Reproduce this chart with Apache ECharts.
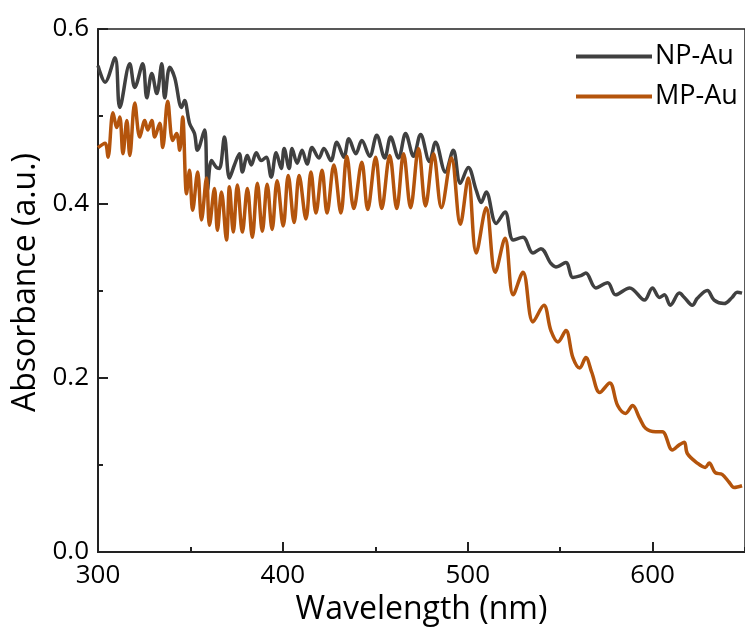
<!DOCTYPE html>
<html>
<head>
<meta charset="utf-8">
<script src="https://cdn.jsdelivr.net/npm/echarts@6/dist/echarts.min.js"></script>
<style>
  html, body { margin: 0; padding: 0; background: #fff; }
  #chart { width: 745px; height: 632px; }
</style>
</head>
<body>
<div id="chart"></div>
<script>
// ---- Data ----
const seriesNames = ["NP-Au", "MP-Au"];

const npWavelength = [300.0,303.8,309.2,311.8,317.2,319.9,324.2,326.4,329.1,331.8,334.5,336.1,338.8,341.5,345.2,346.8,349.5,352.2,353.8,357.6,359.2,361.4,364.1,365.7,368.4,371.1,373.8,376.5,378.1,380.8,382.9,385.6,388.3,391.0,393.7,396.4,399.1,400.7,403.4,405.0,407.7,410.4,413.1,415.8,419.5,422.2,426.0,429.2,433.0,435.7,439.5,442.7,447.0,450.8,455.1,458.3,462.6,466.4,470.7,474.5,479.3,482.6,487.9,492.2,496.0,500.3,504.6,507.3,510.0,515.4,520.2,524.6,529.9,535.3,539.6,545.0,547.7,553.1,556.9,561.2,563.9,569.3,575.7,580.0,587.6,595.6,599.9,603.7,606.4,609.6,614.5,617.2,621.5,624.2,629.6,633.3,638.7,643.0,645.7,648.4];
const npAbsorbance = [0.558,0.539,0.567,0.510,0.560,0.533,0.560,0.521,0.549,0.526,0.560,0.521,0.556,0.544,0.510,0.518,0.492,0.480,0.461,0.484,0.415,0.449,0.441,0.440,0.476,0.429,0.444,0.457,0.436,0.455,0.444,0.458,0.449,0.453,0.430,0.458,0.440,0.463,0.440,0.463,0.446,0.461,0.445,0.464,0.452,0.463,0.449,0.470,0.453,0.474,0.457,0.472,0.454,0.478,0.452,0.476,0.452,0.480,0.454,0.479,0.448,0.470,0.436,0.461,0.423,0.441,0.415,0.401,0.413,0.377,0.390,0.358,0.361,0.343,0.348,0.331,0.327,0.332,0.315,0.317,0.320,0.303,0.309,0.295,0.303,0.289,0.303,0.292,0.295,0.283,0.297,0.292,0.283,0.291,0.300,0.289,0.285,0.292,0.298,0.297];

const mpWavelength = [300.0,303.8,305.4,308.1,310.2,311.8,313.5,315.6,317.2,319.9,322.6,325.3,326.9,329.1,330.7,333.4,335.0,337.7,340.4,342.5,344.2,345.8,347.9,349.5,351.2,353.9,356.0,358.7,360.3,363.0,364.6,366.8,369.5,371.1,373.2,375.4,378.1,380.8,383.5,386.2,388.9,391.5,394.2,396.9,400.2,402.9,406.1,408.8,412.5,415.2,417.9,421.2,423.9,427.6,431.4,434.6,438.4,442.7,445.9,450.2,453.5,457.8,461.6,465.3,469.1,473.4,477.2,481.5,485.8,491.2,496.0,500.3,504.6,510.0,514.9,520.2,524.6,529.9,535.3,541.2,545.0,548.8,553.1,556.9,560.6,563.9,567.1,571.4,576.8,581.1,585.4,589.2,592.9,596.2,601.6,605.3,610.7,614.5,617.2,618.8,624.2,628.5,630.6,633.9,637.6,641.4,644.1,648.4];
const mpAbsorbance = [0.464,0.469,0.453,0.504,0.487,0.499,0.457,0.495,0.455,0.515,0.476,0.495,0.484,0.495,0.476,0.492,0.464,0.517,0.472,0.480,0.461,0.499,0.411,0.438,0.392,0.436,0.381,0.429,0.375,0.417,0.369,0.413,0.358,0.419,0.367,0.421,0.367,0.417,0.361,0.423,0.368,0.422,0.370,0.426,0.374,0.432,0.378,0.432,0.382,0.436,0.389,0.438,0.389,0.444,0.389,0.454,0.394,0.447,0.393,0.453,0.394,0.455,0.394,0.457,0.395,0.463,0.397,0.457,0.395,0.452,0.376,0.429,0.343,0.395,0.321,0.360,0.295,0.321,0.264,0.283,0.254,0.241,0.254,0.223,0.211,0.223,0.206,0.183,0.194,0.168,0.159,0.168,0.154,0.142,0.138,0.138,0.117,0.123,0.126,0.113,0.102,0.097,0.102,0.091,0.089,0.080,0.074,0.076];

const xMin = 300, xMax = 650, xStep = 100, xMinorStep = 50;
const yMin = 0, yMax = 0.6, yStep = 0.2;
const xTitle = "Wavelength (nm)";
const yTitle = "Absorbance (a.u.)";

// ---- Chart ----
const zip = (xs, ys) => xs.map((x, i) => [x, ys[i]]);
const FONT = "Open Sans";
const GRAY = '#404040', ORANGE = '#B4540C';
const legendIcon = 'path://M0,0H76V4H0Z';
const chart = echarts.init(document.getElementById('chart'), null, { renderer: 'canvas' });

chart.setOption({
  animation: false,
  backgroundColor: '#ffffff',
  textStyle: { fontFamily: FONT, color: '#000' },
  grid: {
    left: 98, top: 29, right: -4, bottom: 80,
    show: true, borderColor: '#222', borderWidth: 1.5, backgroundColor: 'transparent'
  },
  legend: {
    orient: 'vertical',
    left: 571, top: 38,
    itemWidth: 76, itemHeight: 4, itemGap: 13,
    textStyle: { fontFamily: FONT, fontSize: 27, color: '#000', padding: [0, 0, 0, -2] },
    data: [
      { name: seriesNames[0], icon: legendIcon, itemStyle: { color: GRAY } },
      { name: seriesNames[1], icon: legendIcon, itemStyle: { color: ORANGE } }
    ]
  },
  xAxis: [{
    type: 'value', min: xMin, max: xMax, interval: xStep,
    name: xTitle, nameLocation: 'middle', nameGap: 42,
    nameTextStyle: { fontFamily: FONT, fontSize: 32, color: '#000' },
    axisLine: { show: true, lineStyle: { color: '#222', width: 2 } },
    axisTick: { show: true, inside: true, length: 10, lineStyle: { color: '#222', width: 2 } },
    axisLabel: { fontFamily: FONT, fontSize: 26, color: '#000', margin: 11, showMaxLabel: false,
      formatter: v => (v === xMax ? '' : String(v)) },
    splitLine: { show: false }
  }, {
    type: 'value', min: xMin, max: xMax, interval: xMinorStep, position: 'bottom',
    axisLine: { show: false },
    axisTick: { show: true, inside: true, length: 5, lineStyle: { color: '#222', width: 2 } },
    axisLabel: { show: false },
    splitLine: { show: false }
  }],
  yAxis: {
    type: 'value', min: yMin, max: yMax, interval: yStep,
    name: yTitle, nameLocation: 'middle', nameGap: 54, nameRotate: 90,
    nameTextStyle: { fontFamily: FONT, fontSize: 32, color: '#000', padding: [0, 0, 0, 16] },
    axisLine: { show: true, lineStyle: { color: '#222', width: 2 } },
    axisTick: { show: true, inside: true, length: 10, lineStyle: { color: '#222', width: 2 } },
    minorTick: { show: true, splitNumber: 2, length: 5, lineStyle: { color: '#222', width: 2 } },
    axisLabel: { fontFamily: FONT, fontSize: 26, color: '#000', margin: 9,
      formatter: v => v.toFixed(1) },
    splitLine: { show: false },
    minorSplitLine: { show: false }
  },
  series: [{
    name: seriesNames[0], type: 'line', xAxisIndex: 0,
    data: zip(npWavelength, npAbsorbance),
    showSymbol: false, symbol: 'none', smooth: 0.35,
    lineStyle: { color: GRAY, width: 3.5 },
    itemStyle: { color: GRAY }, z: 2
  }, {
    name: seriesNames[1], type: 'line', xAxisIndex: 0,
    data: zip(mpWavelength, mpAbsorbance),
    showSymbol: false, symbol: 'none', smooth: 0.35,
    lineStyle: { color: ORANGE, width: 3.5 },
    itemStyle: { color: ORANGE }, z: 3
  }]
});
</script>
</body>
</html>
